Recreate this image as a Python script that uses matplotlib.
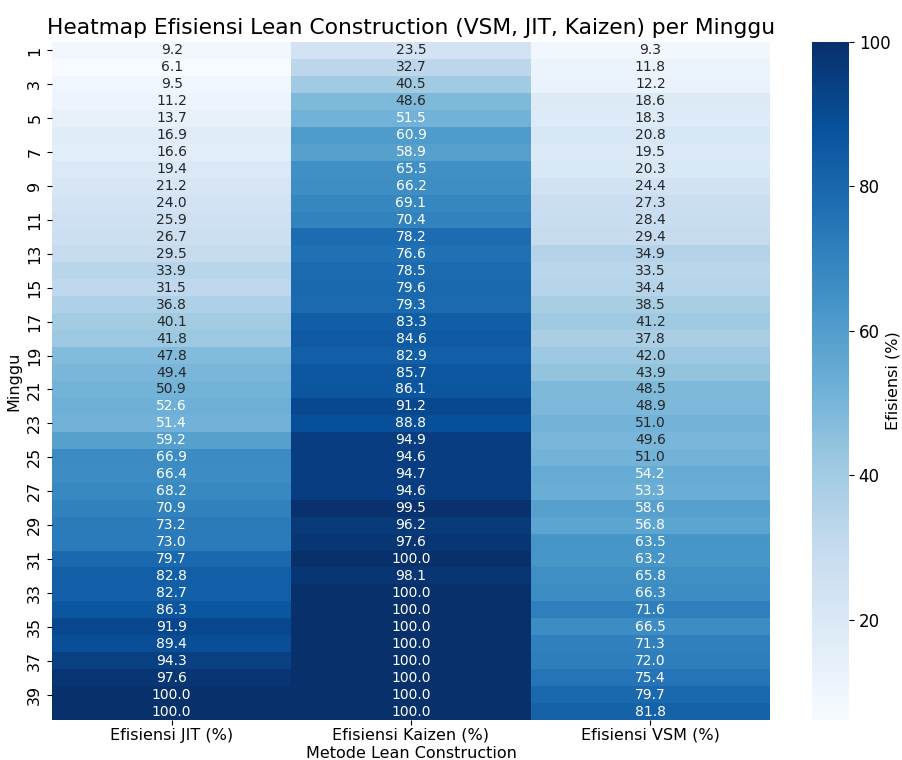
import matplotlib
matplotlib.use('Agg')
import matplotlib.pyplot as plt
import seaborn as sns
import numpy as np
import pandas as pd

# Efisiensi mingguan per metode (%)
minggu = list(range(1, 41))
jit = [9.2, 6.1, 9.5, 11.2, 13.7, 16.9, 16.6, 19.4, 21.2, 24.0,
       25.9, 26.7, 29.5, 33.9, 31.5, 36.8, 40.1, 41.8, 47.8, 49.4,
       50.9, 52.6, 51.4, 59.2, 66.9, 66.4, 68.2, 70.9, 73.2, 73.0,
       79.7, 82.8, 82.7, 86.3, 91.9, 89.4, 94.3, 97.6, 100.0, 100.0]
kaizen = [23.5, 32.7, 40.5, 48.6, 51.5, 60.9, 58.9, 65.5, 66.2, 69.1,
          70.4, 78.2, 76.6, 78.5, 79.6, 79.3, 83.3, 84.6, 82.9, 85.7,
          86.1, 91.2, 88.8, 94.9, 94.6, 94.7, 94.6, 99.5, 96.2, 97.6,
          100.0, 98.1, 100.0, 100.0, 100.0, 100.0, 100.0, 100.0, 100.0, 100.0]
vsm = [9.3, 11.8, 12.2, 18.6, 18.3, 20.8, 19.5, 20.3, 24.4, 27.3,
       28.4, 29.4, 34.9, 33.5, 34.4, 38.5, 41.2, 37.8, 42.0, 43.9,
       48.5, 48.9, 51.0, 49.6, 51.0, 54.2, 53.3, 58.6, 56.8, 63.5,
       63.2, 65.8, 66.3, 71.6, 66.5, 71.3, 72.0, 75.4, 79.7, 81.8]

df = pd.DataFrame({
    'Efisiensi JIT (%)': jit,
    'Efisiensi Kaizen (%)': kaizen,
    'Efisiensi VSM (%)': vsm,
}, index=minggu)

fig = plt.figure(figsize=(9.03, 7.6), dpi=100)
ax = fig.add_axes([52 / 903, 1 - 720 / 760, (770 - 52) / 903, 678 / 760])
cax = fig.add_axes([812 / 903, 1 - 720 / 760, 37 / 903, 678 / 760])

sns.heatmap(df, cmap='Blues', annot=True, fmt='.1f', ax=ax, cbar_ax=cax,
            annot_kws={'fontsize': 10},
            cbar_kws={'label': 'Efisiensi (%)'})

ax.set_yticks(np.arange(0, 40, 2) + 0.5)
ax.set_yticklabels([str(m) for m in minggu[::2]], rotation=90, va='center', fontsize=11.5)
ax.set_xticklabels(df.columns, fontsize=11.5)
ax.tick_params(axis='x', pad=2)
ax.set_title('Heatmap Efisiensi Lean Construction (VSM, JIT, Kaizen) per Minggu',
             fontsize=15.7, pad=6)
ax.set_xlabel('Metode Lean Construction', fontsize=11.5)
ax.set_ylabel('Minggu', fontsize=11.5)
ax.xaxis.set_label_coords(0.5, -0.038)
ax.yaxis.set_label_coords(-0.043, 0.5)

cax.tick_params(labelsize=12)
cax.set_ylabel('Efisiensi (%)', fontsize=11.5)
cax.yaxis.set_label_coords(2.0, 0.5)

plt.savefig('out.png', dpi=100)
